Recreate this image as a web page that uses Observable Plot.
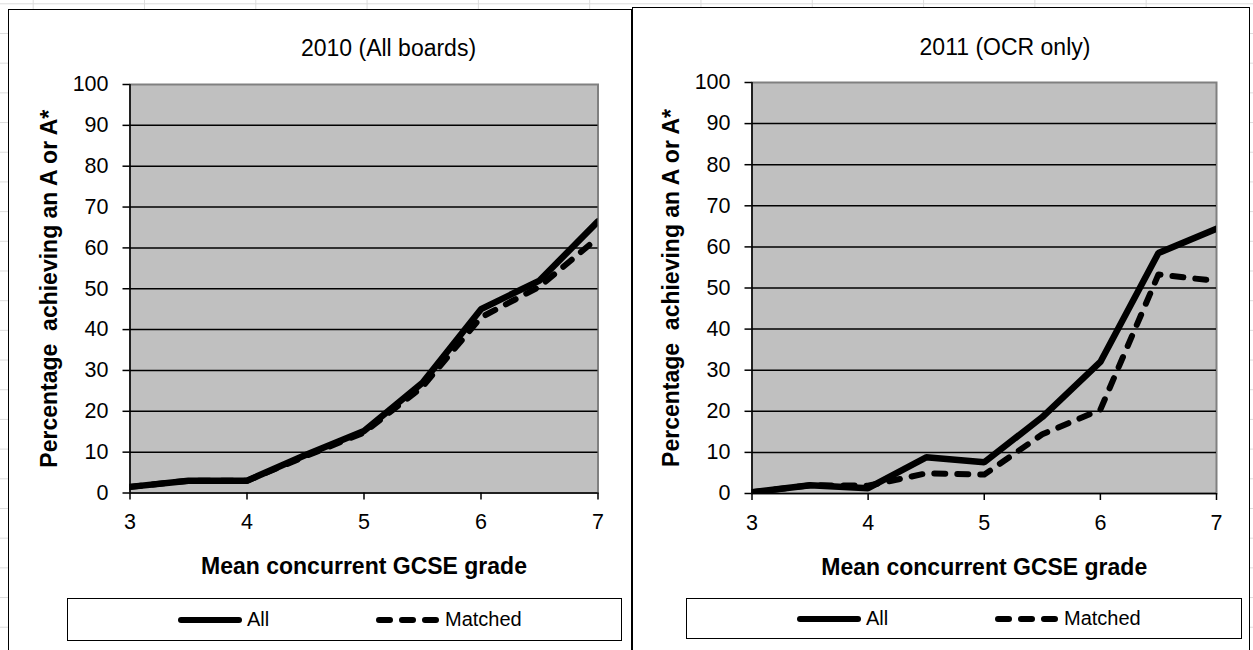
<!DOCTYPE html>
<html><head><meta charset="utf-8">
<script src="https://cdn.jsdelivr.net/npm/d3@7"></script>
<script src="https://cdn.jsdelivr.net/npm/@observablehq/plot@0.6"></script>
<style>
html,body{margin:0;padding:0;}
body{width:1253px;height:650px;overflow:hidden;position:relative;background:#fff;
 background-image:linear-gradient(to right,#dcdcdc 1px,transparent 1px),linear-gradient(to bottom,#dcdcdc 1px,transparent 1px);
 background-size:111.3px 29.7px;background-position:32.7px 3.3px;
 font-family:"Liberation Sans",Arial,sans-serif;color:#000;}
.panel{position:absolute;background:#fff;border:1.5px solid #000;box-sizing:border-box;}
.title{position:absolute;font-size:23px;line-height:22px;white-space:pre;transform:translateX(-50%);}
.chart{position:absolute;}
.legend{position:absolute;border:1.5px solid #000;box-sizing:border-box;background:#fff;}
.legend .item{position:absolute;top:0;height:100%;display:flex;align-items:center;font-size:20px;}
.legend .item span{margin-left:5px;}
svg [aria-label="x-axis label"] text, svg [aria-label="y-axis label"] text{font-weight:bold;font-size:23px !important;white-space:pre;}
svg [aria-label="x-axis tick label"] text, svg [aria-label="y-axis tick label"] text{font-size:21.5px !important;}
svg [aria-label="x-axis tick label"], svg [aria-label="y-axis tick label"]{font-size:21.5px !important;}
</style>
</head><body>
<script>
const grades = [3, 3.5, 4, 4.5, 5, 5.5, 6, 6.5, 7];
const all2010 = [1.5, 3, 3, 9.3, 15.2, 27, 45, 52, 66.5];
const matched2010 = [1.5, 3, 3, 9, 14.8, 26, 43, 50.5, 62.5];
const all2011 = [0.3, 2, 1.3, 8.8, 7.6, 18.6, 32, 58.5, 64.4];
const matched2011 = [0.3, 2, 1.9, 4.9, 4.6, 14.4, 20.4, 53.3, 51.7];
const seriesNames = ["All", "Matched"];
const panelTitles = ["2010 (All boards)", "2011 (OCR only)"];
const xTicks = [3, 4, 5, 6, 7];
const yTicks = [0, 10, 20, 30, 40, 50, 60, 70, 80, 90, 100];
const xTitle = "Mean concurrent GCSE grade";
const yTitle = "Percentage  achieving an A or A*";

const FONT = '"Liberation Sans", Arial, sans-serif';

function chart(allV, matchedV, m) {
  const rows = grades.flatMap((g, i) => [
    {grade: g, pct: allV[i], series: seriesNames[0]},
    {grade: g, pct: matchedV[i], series: seriesNames[1]}
  ]);
  return Plot.plot({
    width: m.width, height: m.height,
    marginLeft: m.left, marginRight: m.right, marginTop: m.top, marginBottom: m.bottom,
    style: {fontFamily: FONT, fontSize: "21.5px", color: "#000", background: "transparent", overflow: "visible"},
    x: {domain: [xTicks[0], xTicks[xTicks.length - 1]]},
    y: {domain: [yTicks[0], yTicks[yTicks.length - 1]]},
    marks: [
      Plot.frame({fill: "#c0c0c0", stroke: "#808080", strokeWidth: 2}),
      Plot.gridY(yTicks.slice(1, -1), {stroke: "#000", strokeOpacity: 1, strokeWidth: 1.5}),
      Plot.ruleY([yTicks[0]], {stroke: "#000", strokeWidth: 1.5}),
      Plot.ruleX([xTicks[0]], {stroke: "#000", strokeWidth: 1.5}),
      Plot.axisY(yTicks, {tickSize: 7, tickPadding: 14.5, fontSize: 21.5, strokeWidth: 1.5,
        label: yTitle, labelArrow: "none", labelAnchor: "center", labelOffset: 89.5}),
      Plot.axisX(xTicks, {tickSize: 7, tickPadding: 14, fontSize: 21.5, strokeWidth: 1.5,
        label: xTitle, labelArrow: "none", labelAnchor: "center", labelOffset: 81, tickFormat: d => String(d)}),
      Plot.line(rows.filter(d => d.series === seriesNames[0]),
        {x: "grade", y: "pct", stroke: "#000", strokeWidth: 6.5, strokeLinejoin: "miter", clip: true}),
      Plot.line(rows.filter(d => d.series === seriesNames[1]),
        {x: "grade", y: "pct", stroke: "#000", strokeWidth: 6, strokeDasharray: "11,12", strokeLinecap: "round", clip: true})
    ]
  });
}

function addEl(cls, css, txt) {
  const d = document.createElement("div");
  d.className = cls;
  Object.assign(d.style, css);
  if (txt !== undefined) d.textContent = txt;
  document.body.appendChild(d);
  return d;
}

function legend(box) {
  const lg = addEl("legend", {left: box.x + "px", top: box.y + "px", width: box.w + "px", height: box.h + "px"});
  seriesNames.forEach((name, i) => {
    const it = document.createElement("div");
    it.className = "item";
    it.style.left = (110 + i * 198) + "px";
    const dash = i === 1 ? ' stroke-dasharray="11,12"' : '';
    it.innerHTML = `<svg width="64" height="10"><line x1="3" x2="61" y1="5" y2="5" stroke="#000" stroke-width="6" stroke-linecap="round"${dash}/></svg><span>${name}</span>`;
    lg.appendChild(it);
  });
}

addEl("panel", {left: "8px", top: "9px", width: "623.5px", height: "700px"});
addEl("panel", {left: "632px", top: "6.5px", width: "618px", height: "700px"});

addEl("title", {left: "388.5px", top: "37.2px"}, panelTitles[0]);
addEl("title", {left: "1005px", top: "36px"}, panelTitles[1]);

const c1 = chart(all2010, matched2010, {width: 618, height: 530, left: 118.5, right: 31.5, top: 24, bottom: 97.5});
c1.classList.add("chart"); c1.style.left = "11px"; c1.style.top = "60px"; c1.style.position = "absolute";
document.body.appendChild(c1);

const c2 = chart(all2011, matched2011, {width: 612, height: 530, left: 116.5, right: 31, top: 24, bottom: 95});
c2.classList.add("chart"); c2.style.left = "635px"; c2.style.top = "58px"; c2.style.position = "absolute";
document.body.appendChild(c2);

legend({x: 67, y: 598, w: 555, h: 43});
legend({x: 686, y: 598, w: 556, h: 41});
</script>
</body></html>
